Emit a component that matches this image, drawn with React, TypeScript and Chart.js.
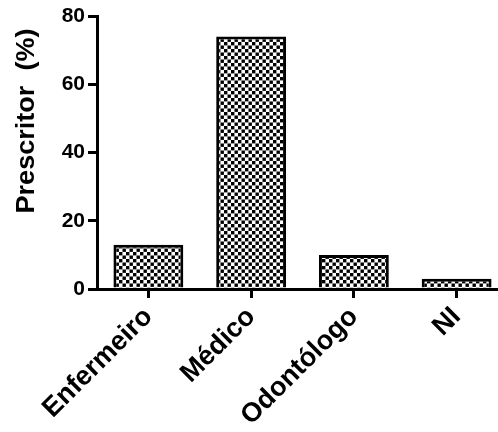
import React, { useEffect, useRef } from "react";
import { Chart, registerables } from "chart.js";

Chart.register(...registerables);

const categories = ["Enfermeiro", "Médico", "Odontólogo", "NI"];
const values = [13, 74, 10, 3];
const yTicks = [0, 20, 40, 60, 80];
const yTitle = "Prescritor  (%)";

const FONT = "'Liberation Sans', Arial, sans-serif";

function makePattern(): CanvasPattern | string {
  const c = document.createElement("canvas");
  c.width = 7;
  c.height = 7;
  const g = c.getContext("2d");
  if (!g) return "#888";
  g.fillStyle = "#fff";
  g.fillRect(0, 0, 7, 7);
  g.fillStyle = "#000";
  g.fillRect(0, 0, 3.4, 3.4);
  g.fillRect(3.5, 3.5, 3.4, 3.4);
  const ctx = document.createElement("canvas").getContext("2d");
  return ctx ? (ctx.createPattern(c, "repeat") as CanvasPattern) : "#888";
}

const titlePlugin = {
  id: "yTitlePlugin",
  afterDraw(chart: any) {
    const ctx = chart.ctx;
    ctx.save();
    ctx.font = `bold 25px ${FONT}`;
    const w = ctx.measureText(yTitle).width;
    const s = 185 / w;
    ctx.translate(27, 121);
    ctx.rotate(-Math.PI / 2);
    ctx.scale(s, 1);
    ctx.fillStyle = "#000";
    ctx.textAlign = "center";
    ctx.textBaseline = "middle";
    ctx.fillText(yTitle, 0, 0);
    ctx.restore();
  },
};

export default function App() {
  const ref = useRef<HTMLCanvasElement>(null);
  useEffect(() => {
    if (!ref.current) return;
    const pattern = makePattern();
    const chart = new Chart(ref.current, {
      type: "bar",
      data: {
        labels: categories,
        datasets: [
          {
            data: values,
            backgroundColor: pattern as any,
            borderColor: "#000",
            borderWidth: 3,
            borderSkipped: "start",
            categoryPercentage: 1,
            barPercentage: 0.68,
          },
        ],
      },
      options: {
        animation: false,
        responsive: false,
        maintainAspectRatio: false,
        layout: { padding: { top: 16, right: 12, left: 0, bottom: 0 } },
        plugins: { legend: { display: false }, tooltip: { enabled: false } },
        scales: {
          x: {
            offset: true,
            grid: {
              offset: false,
              drawOnChartArea: false,
              drawTicks: true,
              tickLength: 9,
              color: "#000",
              lineWidth: 3,
            },
            border: { display: true, color: "#000", width: 3 },
            ticks: {
              color: "#000",
              font: { family: FONT, size: 27, weight: "bold" },
              maxRotation: 45,
              minRotation: 45,
              padding: 3,
            },
            afterFit: (scale: any) => {
              scale.height = 143;
            },
          },
          y: {
            min: 0,
            max: 80,
            afterBuildTicks: (scale: any) => {
              scale.ticks = yTicks.map((v) => ({ value: v }));
            },
            grid: {
              drawOnChartArea: false,
              drawTicks: true,
              tickLength: 9,
              color: "#000",
              lineWidth: 3,
            },
            border: { display: true, color: "#000", width: 3 },
            ticks: {
              color: "#000",
              font: { family: FONT, size: 21, weight: "bold" },
              padding: 3,
            },
            afterFit: (scale: any) => {
              scale.width = 97;
            },
          },
        },
      },
      plugins: [titlePlugin],
    });
    return () => chart.destroy();
  }, []);
  return (
    <div style={{ position: "fixed", left: 0, top: 0, width: 520, height: 432, background: "#fff" }}>
      <canvas ref={ref} width={520} height={432} style={{ width: 520, height: 432 }} />
    </div>
  );
}
